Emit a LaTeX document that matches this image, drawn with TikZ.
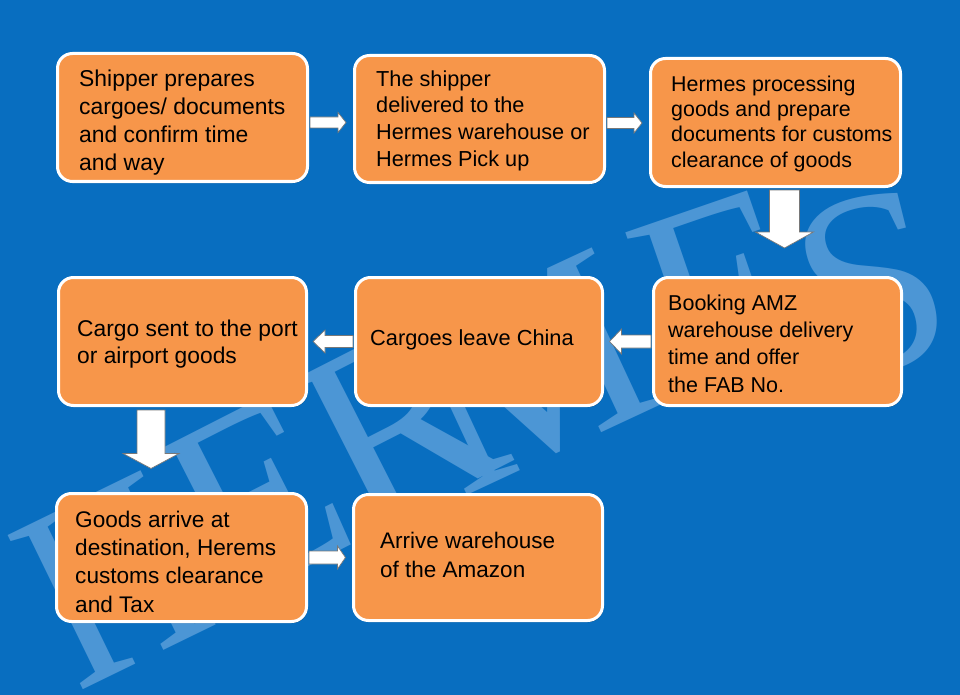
\documentclass[tikz,border=0pt]{standalone}
\usepackage{fontspec}
\setmainfont{Liberation Sans}
\newfontfamily\wmfont{Liberation Serif}
\usetikzlibrary{calc,shadows}
\definecolor{bgblue}{RGB}{8,110,192}
\definecolor{boxorange}{RGB}{247,150,74}
\definecolor{wmblue}{RGB}{76,150,213}
\definecolor{arrowedge}{RGB}{120,120,120}
\begin{document}
\begin{tikzpicture}[x=1pt,y=-1pt,
  box/.style={rectangle, rounded corners=15pt, fill=boxorange, draw=white, line width=3pt, inner sep=0pt,
    drop shadow={shadow xshift=1pt, shadow yshift=-1.5pt, fill=black, opacity=0.45}},
  txt/.style 2 args={anchor=north west, align=left, inner sep=0pt, text=black,
    font=\fontsize{#1}{#2}\selectfont},
  blockarrow/.style={fill=white, draw=arrowedge, line width=0.7pt, line join=miter},
  wm/.style={text=wmblue, font=\wmfont\fontsize{262}{262}\selectfont, inner sep=0pt}]
% background
\fill[bgblue] (0,0) rectangle (960,695);
\useasboundingbox (0,0) rectangle (960,695);
% watermark
\node[wm, rotate=26, xscale=0.85] (wH)  at (112,580)  {H};
\node[wm, rotate=27] (wE1) at (255,498) {E};
\node[wm, rotate=27] (wR)  at (398,423) {R};
\node[wm, rotate=25] (wM)  at (530,372) {M};
\node[wm, rotate=19] (wE2) at (722,290) {E};
\node[wm, rotate=14] (wS)  at (872,285) {S};
% boxes
\node[box, minimum width=250pt, minimum height=128pt] (b1) at (182.5,117.5) {};
\node[box, minimum width=250pt, minimum height=127pt] (b2) at (479.5,119) {};
\node[box, minimum width=250pt, minimum height=128pt] (b3) at (775.5,122.5) {};
\node[box, minimum width=248pt, minimum height=128pt] (b4) at (777.5,341.5) {};
\node[box, minimum width=247pt, minimum height=128pt] (b5) at (479,341.5) {};
\node[box, minimum width=248pt, minimum height=128pt] (b6) at (182.5,341.5) {};
\node[box, minimum width=250pt, minimum height=128pt] (b7) at (181.5,557.5) {};
\node[box, minimum width=249pt, minimum height=126pt] (b8) at (478,557.5) {};
% texts
\node[txt={22.9}{28}]   (t1) at (79,66.4)   {\strut Shipper prepares\\cargoes/ documents\\and confirm time\\and way};
\node[txt={21.7}{26.7}] (t2) at (376,67.3)  {\strut The shipper\\delivered to the\\Hermes warehouse or\\Hermes Pick up};
\node[txt={21.4}{25.4}] (t3) at (671,73.2)  {\strut Hermes processing\\goods and prepare\\documents for customs\\clearance of goods};
\node[txt={21.5}{27.3}] (t4) at (668,290.9) {\strut Booking AMZ\\warehouse delivery\\time and offer\\the FAB No.};
\node[txt={21.8}{27}]   (t5) at (370,326.1) {\strut Cargoes leave China};
\node[txt={22.8}{27}]   (t6) at (77,317.1)  {\strut Cargo sent to the port\\or airport goods};
\node[txt={22.6}{28.3}] (t7) at (75,507.2)  {\strut Goods arrive at\\destination, Herems\\customs clearance\\and Tax};
\node[txt={22.5}{29}]   (t8) at (380,527.7) {\strut Arrive warehouse\\of the Amazon};
% arrows
\draw[blockarrow] let \p1=([yshift=-5pt]b1.east), \p2=(b2.west) in
  (\x1+1pt,\y1+5.5pt) -- (\x2-15pt,\y1+5.5pt) -- (\x2-15pt,\y1+10pt) -- (\x2-7pt,\y1)
  -- (\x2-15pt,\y1-10pt) -- (\x2-15pt,\y1-5.5pt) -- (\x1+1pt,\y1-5.5pt) -- cycle;
\draw[blockarrow] let \p1=([yshift=-4pt]b2.east), \p2=(b3.west) in
  (\x1+1pt,\y1+5.5pt) -- (\x2-15pt,\y1+5.5pt) -- (\x2-15pt,\y1+10pt) -- (\x2-7pt,\y1)
  -- (\x2-15pt,\y1-10pt) -- (\x2-15pt,\y1-5.5pt) -- (\x1+1pt,\y1-5.5pt) -- cycle;
\draw[blockarrow] let \p1=([xshift=9pt]b3.south), \p2=(b4.north) in
  (\x1-15pt,\y1-2pt) -- (\x1-15pt,\y2+44pt) -- (\x1-29pt,\y2+44pt) -- (\x1,\y2+28pt)
  -- (\x1+29pt,\y2+44pt) -- (\x1+15pt,\y2+44pt) -- (\x1+15pt,\y1-2pt) -- cycle;
\draw[blockarrow] let \p1=(b4.west), \p2=(b5.east) in
  (\x1-1pt,\y1+6.5pt) -- (\x2+17.5pt,\y1+6.5pt) -- (\x2+17.5pt,\y1+12.5pt) -- (\x2+5.5pt,\y1)
  -- (\x2+17.5pt,\y1-12.5pt) -- (\x2+17.5pt,\y1-6.5pt) -- (\x1-1pt,\y1-6.5pt) -- cycle;
\draw[blockarrow] let \p1=(b5.west), \p2=(b6.east) in
  (\x1-1pt,\y1+6pt) -- (\x2+17pt,\y1+6pt) -- (\x2+17pt,\y1+11.5pt) -- (\x2+5pt,\y1)
  -- (\x2+17pt,\y1-11.5pt) -- (\x2+17pt,\y1-6pt) -- (\x1-1pt,\y1-6pt) -- cycle;
\draw[blockarrow] let \p1=([xshift=-31.5pt]b6.south), \p2=(b7.north) in
  (\x1-14pt,\y1-3pt) -- (\x1-14pt,\y2+38.5pt) -- (\x1-28pt,\y2+38.5pt) -- (\x1,\y2+23.5pt)
  -- (\x1+28pt,\y2+38.5pt) -- (\x1+14pt,\y2+38.5pt) -- (\x1+14pt,\y1-3pt) -- cycle;
\draw[blockarrow] let \p1=(b7.east), \p2=(b8.west) in
  (\x1+1pt,\y1+6.5pt) -- (\x2-14.5pt,\y1+6.5pt) -- (\x2-14.5pt,\y1+11.5pt) -- (\x2-6.5pt,\y1)
  -- (\x2-14.5pt,\y1-11.5pt) -- (\x2-14.5pt,\y1-6.5pt) -- (\x1+1pt,\y1-6.5pt) -- cycle;
\end{tikzpicture}
\end{document}
